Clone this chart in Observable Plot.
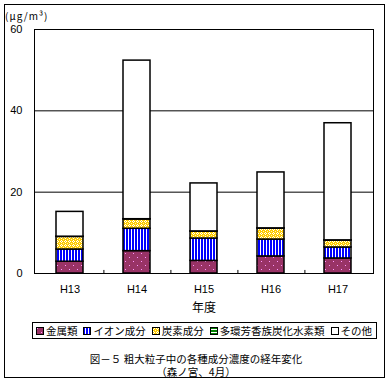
<!DOCTYPE html>
<html><head><meta charset="utf-8">
<script src="https://cdn.jsdelivr.net/npm/d3@7"></script>
<script src="https://cdn.jsdelivr.net/npm/@observablehq/plot@0.6"></script>
<style>
body{margin:0;background:#fff;}
#wrap{position:relative;width:392px;height:385px;font-family:"Liberation Sans","Noto Sans CJK JP",sans-serif;color:#000;}
#border{position:absolute;left:4px;top:4px;width:381px;height:374px;border:1px solid #000;box-sizing:border-box;}
#chart{position:absolute;left:0;top:0;}
#unit{position:absolute;left:5px;top:10px;font-size:10px;line-height:11px;font-family:"Noto Sans CJK JP",sans-serif;white-space:nowrap;letter-spacing:1px;}
#legend{position:absolute;left:32px;top:322px;width:345px;height:17px;border:1px solid #000;box-sizing:border-box;display:flex;align-items:center;justify-content:space-between;padding:0 4px 0 3px;font-family:"Noto Sans CJK JP",sans-serif;font-size:10.5px;line-height:12px;white-space:nowrap;}
#legend .item{display:flex;align-items:center;}
#legend svg{margin-right:2px;}
#cap{position:absolute;left:0;top:352px;width:392px;text-align:center;font-family:"Noto Sans CJK JP",sans-serif;font-size:10.5px;line-height:13px;white-space:pre-line;}
</style></head>
<body>
<div id="wrap">
  <div id="chart"></div>
  <div id="border"></div>
  <div id="unit">(μg/m³)</div>
  <div id="legend"></div>
  <div id="cap"></div>
</div>
<script>
const years = ["H13", "H14", "H15", "H16", "H17"];
const components = ["金属類", "イオン成分", "炭素成分", "多環芳香族炭化水素類", "その他"];
const metal  = [2.9, 5.5, 3.1, 4.2, 3.7];
const ion    = [3.0, 5.5, 5.5, 4.15, 2.7];
const carbon = [3.1, 2.3, 1.7, 2.7, 1.7];
const pah    = [0.05, 0.05, 0.05, 0.05, 0.05];
const other  = [6.1, 39.0, 11.8, 13.75, 28.8];
const yTicks = [0, 20, 40, 60];
const xTitle = "年度";
const caption1 = "図－５ 粗大粒子中の各種成分濃度の経年変化";
const caption2 = "（森ノ宮、4月）";

const seriesVals = [metal, ion, carbon, pah, other];
const table = [];
years.forEach((yr, i) => {
  components.forEach((c, j) => table.push({year: yr, component: c, value: seriesVals[j][i]}));
});

const W = 392, H = 320, ML = 34, MR = 19, MT = 29, MB = 47;
const padIn = 0.6, padOut = 0.3;
const step = (W - ML - MR) / (years.length - padIn + 2 * padOut);
const patIds = components.map((c, i) => "pat" + i);

const svg = Plot.plot({
  width: W, height: H,
  marginLeft: ML, marginRight: MR, marginTop: MT, marginBottom: MB,
  style: {fontFamily: "Liberation Sans, sans-serif", fontSize: "11px", color: "#000", background: "transparent", overflow: "visible"},
  x: {domain: years, paddingInner: padIn, paddingOuter: padOut, label: null, tickSize: 0, tickPadding: 12},
  y: {domain: [0, 60], ticks: yTicks, label: null, tickSize: 0, tickPadding: 12},
  color: {domain: components, range: patIds.map(id => `url(#${id})`)},
  marks: [
    Plot.ruleY(yTicks, {stroke: "#000", strokeWidth: 1}),
    Plot.frame({stroke: "#000", strokeWidth: 1}),
    Plot.barY(table, {x: "year", y: "value", fill: "component", stroke: "#000", strokeWidth: 1.5}),
    Plot.ruleX(years.slice(0, -1), {x: d => d, dx: step / 2, y1: 0, y2: 0.75, stroke: "#000", strokeWidth: 1}),
    Plot.text([xTitle], {frameAnchor: "bottom", dy: 38, fontFamily: "Noto Sans CJK JP, sans-serif", fontSize: 12})
  ]
});

const defs = d3.select(svg).insert("defs", ":first-child");
function pat(id, w, h) {
  return defs.append("pattern").attr("id", id).attr("patternUnits", "userSpaceOnUse").attr("width", w).attr("height", h);
}
function px(p, x, y, w, h, f) { p.append("rect").attr("x", x).attr("y", y).attr("width", w).attr("height", h).attr("fill", f); }
let p0 = pat("pat0", 8, 8);
px(p0, 0, 0, 8, 8, "#993366");
px(p0, 1, 1, 1, 1, "#ff99ff");
px(p0, 5, 5, 1, 1, "#ff99ff");
let p1 = pat("pat1", 3, 3);
px(p1, 0, 0, 3, 3, "#ffffff");
px(p1, 0, 0, 2, 3, "#0000ff");
let p2 = pat("pat2", 4, 4);
px(p2, 0, 0, 4, 4, "#ffcc00");
px(p2, 1, 0, 1, 1, "#ffffff");
px(p2, 0, 1, 1, 1, "#ffffff");
px(p2, 2, 1, 1, 1, "#ffffff");
px(p2, 1, 2, 1, 1, "#ffffff");
px(p2, 3, 3, 1, 1, "#fff4b0");
let p3 = pat("pat3", 3, 3);
px(p3, 0, 0, 3, 3, "#ffffff");
px(p3, 0, 0, 3, 2, "#008000");
let p4 = pat("pat4", 4, 4);
px(p4, 0, 0, 4, 4, "#ffffff");

document.getElementById("chart").appendChild(svg);

const leg = d3.select("#legend");
components.forEach((c, i) => {
  const it = leg.append("div").attr("class", "item");
  const s = it.append("svg").attr("width", 8).attr("height", 8);
  s.append("rect").attr("x", 0.5).attr("y", 0.5).attr("width", 7).attr("height", 7)
    .attr("fill", `url(#${patIds[i]})`).attr("stroke", "#000").attr("stroke-width", 1);
  it.append("span").text(c);
});
document.getElementById("cap").textContent = caption1 + "\n" + caption2;
</script>
</body></html>
